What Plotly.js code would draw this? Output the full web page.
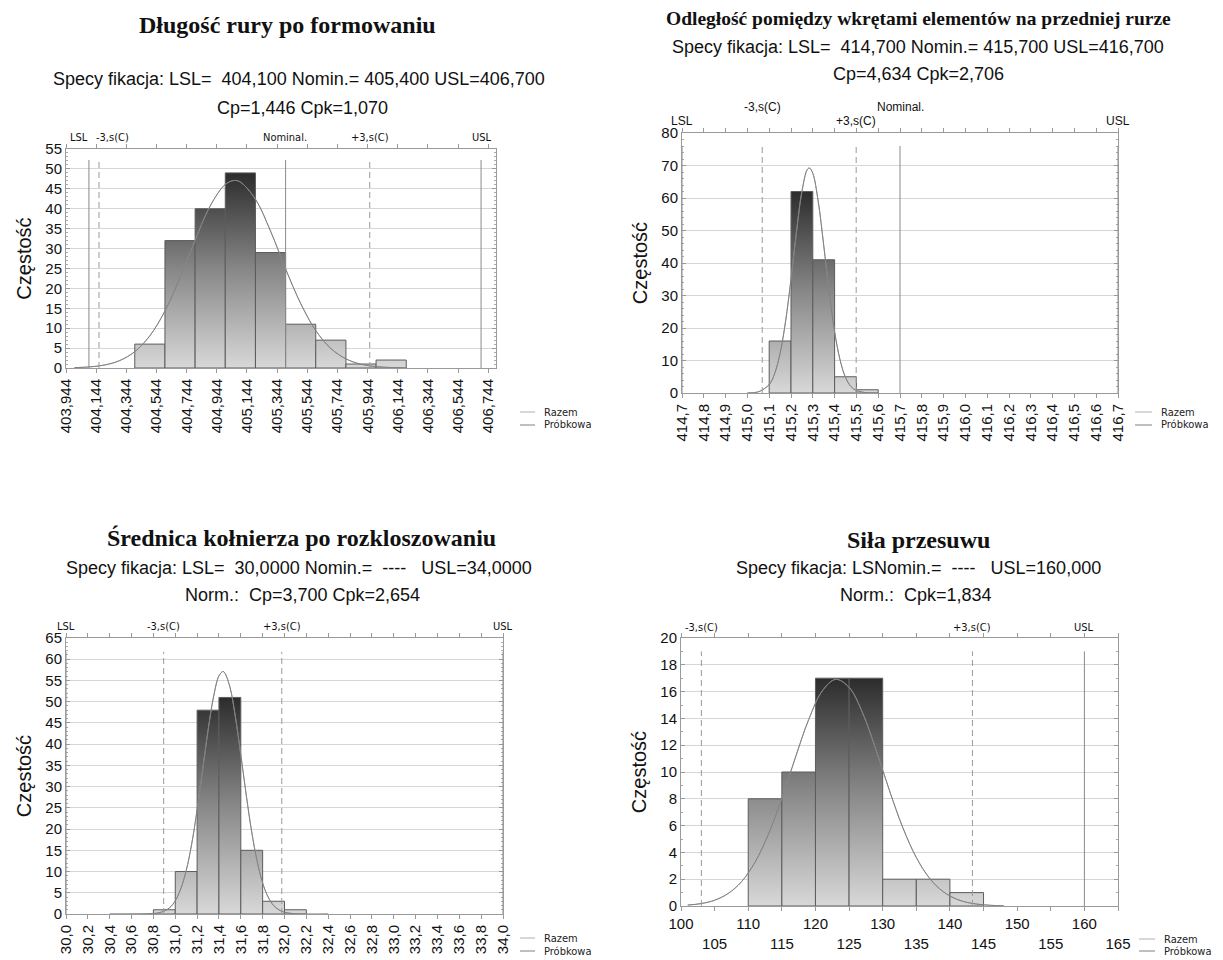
<!DOCTYPE html>
<html><head><meta charset="utf-8">
<script src="https://cdn.plot.ly/plotly-3.0.1.min.js"></script>
<style>html,body{margin:0;padding:0;background:#fff}#chart{width:1223px;height:960px}</style>
</head><body><div id="chart"></div>
<script>
// ---------- DATA ----------
// Panel 1: Długość rury po formowaniu
const p1Title = 'Długość rury po formowaniu';
const p1Spec = 'Specy fikacja: LSL=\u00a0 404,100 Nomin.= 405,400 USL=406,700';
const p1Idx = 'Cp=1,446 Cpk=1,070';
const p1BinEdges = [404.4, 404.6, 404.8, 405.0, 405.2, 405.4, 405.6, 405.8, 406.0, 406.2];
const p1Counts = [6, 32, 40, 49, 29, 11, 7, 1, 2];
const p1CurveX = [404.0, 404.1, 404.2, 404.3, 404.4, 404.5, 404.6, 404.7, 404.8, 404.9, 405.0, 405.06, 405.1, 405.2, 405.3, 405.4, 405.5, 405.6, 405.7, 405.8, 405.9, 406.0, 406.1, 406.2];
const p1CurveY = [0.09, 0.27, 0.75, 1.86, 4.1, 8.1, 14.3, 22.7, 32.1, 40.7, 46.1, 47.1, 46.7, 42.4, 34.4, 24.9, 16.2, 9.4, 4.9, 2.3, 0.94, 0.35, 0.12, 0.03];
const p1LimitNames = ['LSL', '-3,s(C)', 'Nominal.', '+3,s(C)', 'USL'];
const p1LimitValues = [404.096, 404.163, 405.400, 405.958, 406.696];
const p1TickVals = [403.944, 404.144, 404.344, 404.544, 404.744, 404.944, 405.144, 405.344, 405.544, 405.744, 405.944, 406.144, 406.344, 406.544, 406.744];
const p1TickText = ['403,944', '404,144', '404,344', '404,544', '404,744', '404,944', '405,144', '405,344', '405,544', '405,744', '405,944', '406,144', '406,344', '406,544', '406,744'];

// Panel 2: Odległość pomiędzy wkrętami
const p2Title = 'Odległość pomiędzy wkrętami elementów na przedniej rurze';
const p2Spec = 'Specy fikacja: LSL=\u00a0 414,700 Nomin.= 415,700 USL=416,700';
const p2Idx = 'Cp=4,634 Cpk=2,706';
const p2BinEdges = [415.1, 415.2, 415.3, 415.4, 415.5, 415.6];
const p2Counts = [16, 62, 41, 5, 1];
const p2CurveX = [415.0, 415.05, 415.1, 415.125, 415.15, 415.175, 415.2, 415.225, 415.25, 415.275, 415.285, 415.3, 415.325, 415.35, 415.375, 415.4, 415.425, 415.45, 415.475, 415.5, 415.55, 415.6];
const p2CurveY = [0.03, 0.35, 2.6, 6.0, 12.2, 22.0, 35.0, 49.5, 62.0, 68.8, 69.2, 67.6, 58.9, 45.5, 31.1, 18.9, 10.2, 4.8, 2.0, 0.76, 0.07, 0.0];
const p2LimitNames = ['LSL', '-3,s(C)', 'Nominal.', '+3,s(C)', 'USL'];
const p2LimitValues = [414.700, 415.068, 415.700, 415.499, 416.700];
const p2TickVals = [414.7, 414.8, 414.9, 415.0, 415.1, 415.2, 415.3, 415.4, 415.5, 415.6, 415.7, 415.8, 415.9, 416.0, 416.1, 416.2, 416.3, 416.4, 416.5, 416.6, 416.7];
const p2TickText = ['414,7', '414,8', '414,9', '415,0', '415,1', '415,2', '415,3', '415,4', '415,5', '415,6', '415,7', '415,8', '415,9', '416,0', '416,1', '416,2', '416,3', '416,4', '416,5', '416,6', '416,7'];

// Panel 3: Średnica kołnierza
const p3Title = 'Średnica kołnierza po rozkloszowaniu';
const p3Spec = 'Specy fikacja: LSL=\u00a0 30,0000 Nomin.=\u00a0 ----\u00a0\u00a0 USL=34,0000';
const p3Idx = 'Norm.:\u00a0 Cp=3,700 Cpk=2,654';
const p3BinEdges = [30.8, 31.0, 31.2, 31.4, 31.6, 31.8, 32.0, 32.2];
const p3Counts = [1, 10, 48, 51, 15, 3, 1];
const p3CurveX = [30.4, 30.8, 30.85, 30.9, 30.95, 31.0, 31.05, 31.1, 31.15, 31.2, 31.25, 31.3, 31.35, 31.4, 31.435, 31.45, 31.5, 31.55, 31.6, 31.65, 31.7, 31.75, 31.8, 31.85, 31.9, 31.95, 32.0, 32.1, 32.4];
const p3CurveY = [0.0, 0.12, 0.3, 0.7, 1.5, 3.1, 5.9, 10.2, 16.4, 24.5, 33.8, 43.2, 51.1, 56.1, 57.1, 56.9, 53.5, 46.5, 37.5, 28.0, 19.3, 12.4, 7.3, 4.0, 2.0, 0.96, 0.42, 0.06, 0.0];
const p3LimitNames = ['LSL', '-3,s(C)', '+3,s(C)', 'USL'];
const p3LimitValues = [30.0, 30.894, 31.975, 34.0];
const p3TickVals = [30.0, 30.2, 30.4, 30.6, 30.8, 31.0, 31.2, 31.4, 31.6, 31.8, 32.0, 32.2, 32.4, 32.6, 32.8, 33.0, 33.2, 33.4, 33.6, 33.8, 34.0];
const p3TickText = ['30,0', '30,2', '30,4', '30,6', '30,8', '31,0', '31,2', '31,4', '31,6', '31,8', '32,0', '32,2', '32,4', '32,6', '32,8', '33,0', '33,2', '33,4', '33,6', '33,8', '34,0'];

// Panel 4: Siła przesuwu
const p4Title = 'Siła przesuwu';
const p4Spec = 'Specy fikacja: LSNomin.=\u00a0 ----\u00a0\u00a0 USL=160,000';
const p4Idx = 'Norm.:\u00a0 Cpk=1,834';
const p4BinEdges = [110, 115, 120, 125, 130, 135, 140, 145];
const p4Counts = [8, 10, 17, 17, 2, 2, 1];
const p4CurveX = [101, 103, 105, 107, 109, 111, 113, 115, 117, 119, 121, 123, 125, 127, 129, 131, 133, 135, 137, 139, 141, 143, 145, 147, 148];
const p4CurveY = [0.07, 0.18, 0.43, 0.93, 1.81, 3.26, 5.35, 8.04, 11.06, 13.92, 16.04, 16.91, 16.32, 14.42, 11.66, 8.63, 5.84, 3.62, 2.05, 1.07, 0.51, 0.22, 0.09, 0.03, 0.02];
const p4LimitNames = ['-3,s(C)', '+3,s(C)', 'USL'];
const p4LimitValues = [103.03, 143.35, 160.0];
const p4TickVals = [100, 105, 110, 115, 120, 125, 130, 135, 140, 145, 150, 155, 160, 165];
const p4TickText = ['100', '105', '110', '115', '120', '125', '130', '135', '140', '145', '150', '155', '160', '165'];

const legendNames = ['Razem', 'Próbkowa'];
const yTitle = 'Częstość';

// ---------- STYLE / LAYOUT ----------
const W = 1223, H = 960;
const px = v => v / W, py = v => 1 - v / H;
const SANS = 'Liberation Sans, Arial, sans-serif';
const NARROW = 'Liberation Sans Narrow, DejaVu Sans Condensed, Liberation Sans, sans-serif';
const SERIF = 'Liberation Serif, Times New Roman, serif';

const panels = [
  {n: 1, box: [66, 149, 496, 368], xr: [403.944, 406.795], yr: [0, 55], dtick: 5, minor: 1, angle: -90,
   edges: p1BinEdges, counts: p1Counts, cx: p1CurveX, cy: p1CurveY,
   lim: p1LimitNames, limv: p1LimitValues, dashed: [false, true, false, true, false],
   labX: [404.03, 404.253, 405.398, 405.962, 406.701], labY: [137, 137, 137, 137, 137], labSize: 11, labFont: NARROW,
   tv: p1TickVals, tt: p1TickText,
   title: p1Title, titleX: 287, titleY: 25, titleSize: 24, spec: p1Spec, specX: 299, specY: 79, idx: p1Idx, idxX: 302, idxY: 108,
   leg: [520, 535, 542, 412, 425]},
  {n: 2, box: [682, 133, 1118, 393], xr: [414.7, 416.7], yr: [0, 80], dtick: 10, minor: 2, angle: -90,
   edges: p2BinEdges, counts: p2Counts, cx: p2CurveX, cy: p2CurveY,
   lim: p2LimitNames, limv: p2LimitValues, dashed: [false, true, false, true, false],
   labX: [414.7, 415.068, 415.7, 415.499, 416.7], labY: [121, 107, 107, 121, 121], labSize: 12, labFont: SANS,
   tv: p2TickVals, tt: p2TickText,
   title: p2Title, titleX: 918, titleY: 19, titleSize: 19.5, spec: p2Spec, specX: 918, specY: 47, idx: p2Idx, idxX: 918, idxY: 74,
   leg: [1135, 1152, 1159, 412, 425]},
  {n: 3, box: [66, 638, 503, 914], xr: [30, 34], yr: [0, 65], dtick: 5, minor: 1, angle: -90,
   edges: p3BinEdges, counts: p3Counts, cx: p3CurveX, cy: p3CurveY,
   lim: p3LimitNames, limv: p3LimitValues, dashed: [false, true, true, false],
   labX: [30.0, 30.894, 31.975, 34.0], labY: [626, 626, 626, 626], labSize: 11, labFont: NARROW,
   tv: p3TickVals, tt: p3TickText,
   title: p3Title, titleX: 301, titleY: 538, titleSize: 24, spec: p3Spec, specX: 299, specY: 568, idx: p3Idx, idxX: 302, idxY: 595,
   leg: [520, 535, 542, 938, 951]},
  {n: 4, box: [681, 638, 1118, 906], xr: [100, 165], yr: [0, 20], dtick: 2, minor: 1, angle: 0,
   edges: p4BinEdges, counts: p4Counts, cx: p4CurveX, cy: p4CurveY,
   lim: p4LimitNames, limv: p4LimitValues, dashed: [true, true, false],
   labX: [103.03, 143.35, 160.0], labY: [627, 627, 627], labSize: 11, labFont: NARROW,
   tv: p4TickVals, tt: p4TickText.map((t, i) => i % 2 ? '<br>' + t : t),
   title: p4Title, titleX: 918, titleY: 540, titleSize: 24, spec: p4Spec, specX: 918, specY: 568, idx: p4Idx, idxX: 916, idxY: 595,
   leg: [1139, 1155, 1162, 939, 951]}
];

const traces = [];
const layout = {
  width: W, height: H, margin: {l: 0, r: 0, t: 0, b: 0},
  paper_bgcolor: '#fff', plot_bgcolor: '#fff', showlegend: false,
  font: {family: SANS, color: '#111'},
  annotations: [], shapes: []
};

panels.forEach(p => {
  const xa = 'x' + p.n, ya = 'y' + p.n;
  const xk = 'xaxis' + p.n, yk = 'yaxis' + p.n;
  const [L, T, R, B] = p.box;
  const maxC = Math.max(...p.counts);
  // bars
  for (let i = 0; i < p.counts.length; i++) {
    const x0 = p.edges[i], x1 = p.edges[i + 1], c = p.counts[i];
    traces.push({
      type: 'scatter', mode: 'lines', xaxis: xa, yaxis: ya,
      x: [x0, x0, x1, x1, x0], y: [0, c, c, 0, 0],
      fill: 'toself',
      fillgradient: {type: 'vertical', colorscale: [[0, '#d8d8d8'], [0.5, '#888888'], [1, '#2c2c2c']], start: 0, stop: maxC},
      line: {color: '#5c5c5c', width: 1}, hoverinfo: 'skip', showlegend: false
    });
  }
  // normal curves (Razem, Próbkowa)
  traces.push({type: 'scatter', mode: 'lines', xaxis: xa, yaxis: ya, x: p.cx, y: p.cy,
    line: {color: '#9a9a9a', width: 1, shape: 'spline'}, name: legendNames[0], hoverinfo: 'skip'});
  traces.push({type: 'scatter', mode: 'lines', xaxis: xa, yaxis: ya, x: p.cx, y: p.cy,
    line: {color: '#7a7a7a', width: 0.8, shape: 'spline'}, name: legendNames[1], hoverinfo: 'skip'});

  layout[xk] = {
    domain: [px(L), px(R)], range: p.xr, anchor: ya,
    tickmode: 'array', tickvals: p.tv, ticktext: p.tt, tickangle: p.angle,
    tickfont: {size: 15, color: '#111', family: SANS},
    showgrid: false, zeroline: false, showline: true, linecolor: '#9a9a9a', linewidth: 1,
    mirror: 'ticks', ticks: 'outside', ticklen: 4, tickcolor: '#9a9a9a'
  };
  layout[yk] = {
    domain: [py(B), py(T)], range: p.yr, anchor: xa, dtick: p.dtick, tick0: 0,
    tickfont: {size: 15, color: '#111', family: SANS},
    showgrid: true, gridcolor: '#d6d6d6', gridwidth: 1, zeroline: false,
    showline: true, linecolor: '#9a9a9a', linewidth: 1, mirror: 'allticks',
    ticks: 'inside', ticklen: 4, tickcolor: '#9a9a9a',
    minor: {dtick: p.minor, ticks: 'inside', ticklen: 2, tickcolor: '#aaaaaa', showgrid: false},
    title: {text: yTitle, font: {size: 20, color: '#111', family: SANS}, standoff: 8}
  };
  // spec limit lines
  p.limv.forEach((v, i) => {
    layout.shapes.push({type: 'line', xref: xa, yref: ya + ' domain', x0: v, x1: v, y0: 0, y1: 0.95,
      line: {color: p.dashed[i] ? '#9a9a9a' : '#8a8a8a', width: 1, dash: p.dashed[i] ? '6px,4px' : 'solid'}});
    layout.annotations.push({xref: xa, yref: 'paper', x: p.labX[i], y: py(p.labY[i]), text: p.lim[i],
      showarrow: false, xanchor: 'center', yanchor: 'middle', font: {size: p.labSize, family: p.labFont, color: '#111'}});
  });
  // titles
  layout.annotations.push({xref: 'paper', yref: 'paper', x: px(p.titleX), y: py(p.titleY), text: '<b>' + p.title + '</b>',
    showarrow: false, xanchor: 'center', yanchor: 'middle', font: {size: p.titleSize, family: SERIF, color: '#111'}});
  layout.annotations.push({xref: 'paper', yref: 'paper', x: px(p.specX), y: py(p.specY), text: p.spec,
    showarrow: false, xanchor: 'center', yanchor: 'middle', font: {size: 18, family: SANS, color: '#111'}});
  layout.annotations.push({xref: 'paper', yref: 'paper', x: px(p.idxX), y: py(p.idxY), text: p.idx,
    showarrow: false, xanchor: 'center', yanchor: 'middle', font: {size: 18, family: SANS, color: '#111'}});
  // legend
  const [lx0, lx1, tx, ly1, ly2] = p.leg;
  [[ly1, '#b0b0b0', legendNames[0]], [ly2, '#808080', legendNames[1]]].forEach(([ly, col, name]) => {
    layout.shapes.push({type: 'line', xref: 'paper', yref: 'paper', x0: px(lx0), x1: px(lx1), y0: py(ly), y1: py(ly),
      line: {color: col, width: 1}});
    layout.annotations.push({xref: 'paper', yref: 'paper', x: px(tx), y: py(ly), text: name, showarrow: false,
      xanchor: 'left', yanchor: 'middle', font: {size: 11, family: NARROW, color: '#222'}});
  });
});

Plotly.newPlot('chart', traces, layout, {displayModeBar: false, staticPlot: true});
</script>
</body></html>
